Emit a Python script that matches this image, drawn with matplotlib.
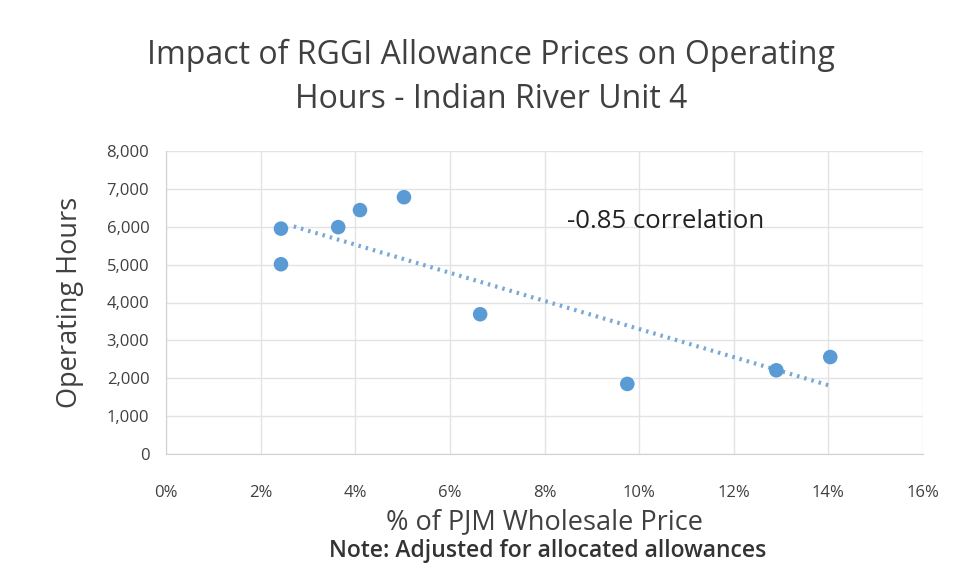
import numpy as np
import matplotlib
matplotlib.use("Agg")
import matplotlib.pyplot as plt
from matplotlib.ticker import FuncFormatter

plt.rcParams['font.family'] = ['Open Sans', 'DejaVu Sans']

pct_price = [2.43, 2.43, 3.64, 4.10, 5.03, 6.64, 9.75, 12.90, 14.04]
op_hours = [5950, 5010, 5990, 6440, 6780, 3690, 1850, 2210, 2560]
x_ticks = [0, 2, 4, 6, 8, 10, 12, 14, 16]
y_ticks = [0, 1000, 2000, 3000, 4000, 5000, 6000, 7000, 8000]

W, H = 956, 573
fig = plt.figure(figsize=(W/100, H/100), dpi=100)
ax = fig.add_axes([166/W, 1-454/H, (923-166)/W, (454-151)/H])

blue = '#5B9BD5'
ax.scatter(pct_price, op_hours, s=110, color=blue, zorder=3, edgecolors='none')

x = np.array(pct_price); y = np.array(op_hours)
m, b = np.polyfit(x, y, 1)
xs = np.array([2.7, x.max()])
ax.plot(xs, m*xs + b, linestyle=(0, (0.6, 1.2)), color='#78A9D6', lw=3, zorder=2)

ax.set_xlim(0, 16)
ax.set_ylim(0, 8000)
ax.set_xticks(x_ticks)
ax.set_yticks(y_ticks)
ax.xaxis.set_major_formatter(FuncFormatter(lambda v, p: f"{int(v)}%"))
ax.yaxis.set_major_formatter(FuncFormatter(lambda v, p: f"{int(v):,}"))
ax.grid(True, color='#E3E3E3', lw=1)
ax.set_axisbelow(True)
for s in ['top', 'right']:
    ax.spines[s].set_visible(False)
ax.spines['left'].set_color('#D0D0D0')
ax.spines['bottom'].set_color('#D0D0D0')
ax.tick_params(length=0, labelsize=12, colors='#404040', pad=12)
ax.tick_params(axis='x', pad=22)

ax.text(567/W, 1-221/H, '-0.85 correlation', transform=fig.transFigure,
        fontsize=18.5, color='#222222', va='center', ha='left')

fig.text(491/W, 1-55/H, 'Impact of RGGI Allowance Prices on Operating',
         fontsize=23, color='#404040', ha='center', va='center')
fig.text(491/W, 1-100/H, 'Hours - Indian River Unit 4',
         fontsize=23, color='#404040', ha='center', va='center')
fig.text(70/W, 1-302/H, 'Operating Hours', rotation=90, fontsize=19.5,
         color='#404040', ha='center', va='center')
fig.text(544/W, 1-522/H, '% of PJM Wholesale Price', fontsize=19.5,
         color='#404040', ha='center', va='center')
fig.text(548/W, 1-551/H, 'Note: Adjusted for allocated allowances', fontsize=16.5,
         color='#333333', ha='center', va='center', fontweight='semibold')

fig.savefig('out.png', dpi=100)
